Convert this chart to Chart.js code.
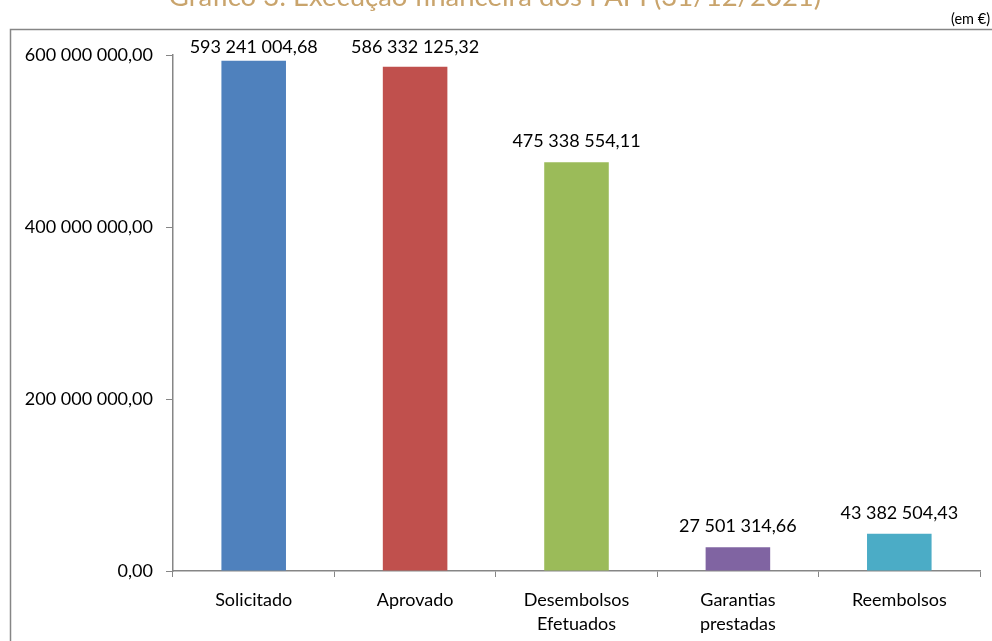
<!DOCTYPE html>
<html>
<head>
<meta charset="utf-8">
<script src="https://cdn.jsdelivr.net/npm/chart.js@4/dist/chart.umd.min.js"></script>
<style>
  html, body { margin: 0; padding: 0; background: #fff; overflow: hidden; }
  #wrap { position: relative; width: 992px; height: 641px; }
</style>
</head>
<body>
<div id="wrap"><canvas id="chart" width="992" height="641"></canvas></div>
<script>
// Dados do gráfico
const categorias = ['Solicitado', 'Aprovado', ['Desembolsos', 'Efetuados'], ['Garantias', 'prestadas'], 'Reembolsos'];
const valores = [593241004.68, 586332125.32, 475338554.11, 27501314.66, 43382504.43];
const cores = ['#4F81BD', '#C0504D', '#9BBB59', '#8064A2', '#4BACC6'];
const ticksY = [0, 200000000, 400000000, 600000000];
const titulo = 'Gráfico 3: Execução financeira dos PAPI (31/12/2021)';
const unidade = '(em €)';

const fonte = 'Lato, "Open Sans", sans-serif';
const cinza = '#868686';

function formatar(v) {
    const partes = v.toFixed(2).split('.');
    return partes[0].replace(/\B(?=(\d{3})+(?!\d))/g, ' ') + ',' + partes[1];
}

// Moldura, título e rótulos de dados
const extras = {
    id: 'extras',
    beforeDraw(chart) {
        const ctx = chart.ctx;
        ctx.save();
        ctx.strokeStyle = cinza;
        ctx.lineWidth = 1.5;
        ctx.strokeRect(10.5, 29.5, 1200, 1000);
        ctx.fillStyle = '#C9A46C';
        ctx.font = '27.5px ' + fonte;
        ctx.textAlign = 'center';
        ctx.textBaseline = 'alphabetic';
        ctx.fillText(titulo, 495, 6);
        ctx.fillStyle = '#000';
        ctx.font = '14.5px ' + fonte;
        ctx.textAlign = 'right';
        ctx.fillText(unidade, 990, 24);
        ctx.restore();
    },
    afterDatasetsDraw(chart) {
        const ctx = chart.ctx;
        const meta = chart.getDatasetMeta(0);
        ctx.save();
        ctx.fillStyle = '#000';
        ctx.font = '18px ' + fonte;
        ctx.textAlign = 'center';
        ctx.textBaseline = 'middle';
        meta.data.forEach(function(bar, i) {
            const y = Math.max(bar.y - 21, 47);
            ctx.fillText(formatar(valores[i]), bar.x, y);
        });
        ctx.restore();
    }
};

const ctx = document.getElementById('chart').getContext('2d');
new Chart(ctx, {
    type: 'bar',
    data: {
        labels: categorias,
        datasets: [{
            data: valores,
            backgroundColor: cores,
            borderWidth: 0,
            barPercentage: 0.4,
            categoryPercentage: 1
        }]
    },
    options: {
        responsive: false,
        animation: false,
        layout: { padding: { top: 55, right: 12, left: 0, bottom: 0 } },
        plugins: {
            legend: { display: false },
            tooltip: { enabled: false }
        },
        scales: {
            x: {
                grid: { display: true, drawOnChartArea: false, tickLength: 6, color: cinza, offset: true },
                border: { color: cinza, width: 1.5 },
                ticks: { color: '#000', font: { family: fonte, size: 18, lineHeight: 1.35 }, padding: 11, maxRotation: 0, autoSkip: false },
                afterFit(scale) { scale.height = 70; }
            },
            y: {
                min: 0,
                max: 600000000,
                afterBuildTicks(scale) { scale.ticks = ticksY.map(v => ({ value: v })); },
                grid: { display: true, drawOnChartArea: false, tickLength: 7, color: cinza },
                border: { color: cinza, width: 1.5 },
                ticks: {
                    color: '#000',
                    font: { family: fonte, size: 18 },
                    padding: 13,
                    callback: function(v) { return formatar(v); }
                },
                afterFit(scale) { scale.width = 173; }
            }
        }
    },
    plugins: [extras]
});
</script>
</body>
</html>
